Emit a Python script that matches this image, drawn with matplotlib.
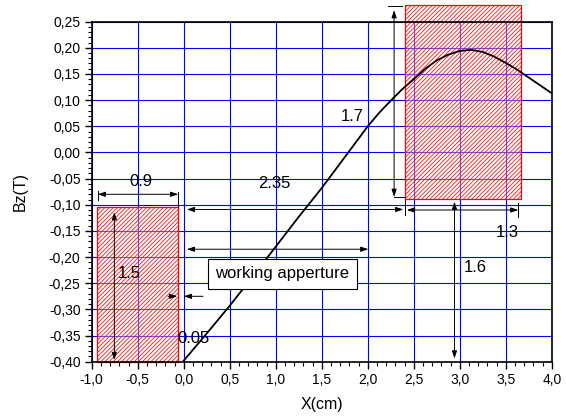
import matplotlib
matplotlib.use("Agg")
import matplotlib.pyplot as plt
from matplotlib.patches import Rectangle
from matplotlib.ticker import MultipleLocator, FuncFormatter

plt.rcParams['font.family'] = ['Liberation Sans', 'DejaVu Sans']
plt.rcParams['hatch.linewidth'] = 0.55

# Bz along the axis
x_cm = [0.0, 0.25, 0.5, 0.75, 1.0, 1.25, 1.5, 1.75, 2.0, 2.125, 2.25, 2.375,
        2.5, 2.625, 2.75, 2.875, 3.0, 3.125, 3.25, 3.375, 3.5, 3.625, 3.75,
        3.875, 4.0]
bz_t = [-0.398, -0.346, -0.293, -0.237, -0.180, -0.123, -0.068, -0.009, 0.050,
        0.076, 0.099, 0.121, 0.140, 0.160, 0.176, 0.187, 0.194, 0.196, 0.192,
        0.183, 0.171, 0.158, 0.143, 0.128, 0.113]

# magnet blocks (x0, y0, width, height)
blocks = [(-0.94, -0.40, 0.88, 0.295),
          (2.405, -0.089, 1.265, 0.370)]

# dimension arrows: (x0, y0, x1, y1)
dims = [(-0.935, -0.080, -0.059, -0.080),
        (-0.754, -0.114, -0.754, -0.397),
        (0.033, -0.109, 2.387, -0.109),
        (0.033, -0.185, 2.007, -0.185),
        (2.286, 0.272, 2.286, -0.085),
        (2.424, -0.110, 3.637, -0.110),
        (2.942, -0.094, 2.942, -0.394)]

# plain segments (end bars, leaders)
segs = [(-0.935, -0.073, -0.935, -0.091),
        (-0.059, -0.075, -0.059, -0.104),
        (-0.42, -0.101, -0.345, -0.101),
        (2.405, -0.091, 2.405, -0.120),
        (3.637, -0.096, 3.637, -0.123),
        (2.286, -0.086, 2.405, -0.086),
        (2.22, 0.280, 2.37, 0.280)]

labels = [("0.9", -0.46, -0.055), ("1.5", -0.59, -0.232), ("2.35", 0.985, -0.060),
          ("0.05", 0.105, -0.356), ("1.7", 1.826, 0.068), ("1.3", 3.518, -0.153),
          ("1.6", 3.166, -0.219)]

fig = plt.figure(figsize=(5.66, 4.16), dpi=100)
ax = fig.add_axes([0.162, 0.1305, 0.813, 0.8175])

ax.set_xlim(-1.0, 4.0)
ax.set_ylim(-0.40, 0.25)
ax.xaxis.set_major_locator(MultipleLocator(0.5))
ax.xaxis.set_minor_locator(MultipleLocator(0.1))
ax.yaxis.set_major_locator(MultipleLocator(0.05))
ax.yaxis.set_minor_locator(MultipleLocator(0.01))
ax.xaxis.set_major_formatter(FuncFormatter(lambda v, p: f"{round(v, 2) + 0:.1f}".replace('.', ',')))
ax.yaxis.set_major_formatter(FuncFormatter(lambda v, p: f"{round(v, 3) + 0:.2f}".replace('.', ',')))
ax.tick_params(which='major', direction='out', length=5, width=1.0, labelsize=10, pad=3)
ax.tick_params(which='minor', direction='out', length=3, width=0.8)
for s in ax.spines.values():
    s.set_linewidth(1.2)
ax.set_axisbelow(True)
ax.grid(True, which='major', color='#0000ff', lw=0.8)

for (x0, y0, w, h) in blocks:
    ax.add_patch(Rectangle((x0, y0), w, h, facecolor=(1, 1, 1, 0.35),
                           edgecolor='red', hatch='////////', lw=0.9,
                           zorder=2, clip_on=False))

ax.plot(x_cm, bz_t, color='black', lw=1.3, zorder=3)

aprops = dict(arrowstyle='<|-|>,head_length=0.45,head_width=0.15',
              color='black', lw=0.7, shrinkA=0, shrinkB=0, mutation_scale=10)
for (x0, y0, x1, y1) in dims:
    ax.annotate('', xy=(x1, y1), xytext=(x0, y0), arrowprops=aprops,
                zorder=4, annotation_clip=False)

oneway = dict(arrowstyle='-|>,head_length=0.45,head_width=0.15',
              color='black', lw=0.7, shrinkA=0, shrinkB=0, mutation_scale=10)
ax.annotate('', xy=(-0.07, -0.275), xytext=(-0.17, -0.275), arrowprops=oneway, zorder=4)
ax.annotate('', xy=(0.0, -0.275), xytext=(0.21, -0.275), arrowprops=oneway, zorder=4)

for (x0, y0, x1, y1) in segs:
    ax.plot([x0, x1], [y0, y1], color='black', lw=0.7, zorder=4, clip_on=False)

for (t, tx, ty) in labels:
    ax.text(tx, ty, t, fontsize=12, ha='center', va='center', zorder=5)

ax.text(1.073, -0.232, "working apperture", fontsize=12, ha='center', va='center',
        zorder=6, bbox=dict(boxstyle='square,pad=0.45', facecolor='white',
                            edgecolor='black', lw=0.8))

ax.set_xlabel("X(cm)", fontsize=11.5)
ax.set_ylabel("Bz(T)", fontsize=11.5)
ax.xaxis.set_label_coords(0.5, -0.105)
ax.yaxis.set_label_coords(-0.138, 0.5)

fig.savefig("out.png", dpi=100)
